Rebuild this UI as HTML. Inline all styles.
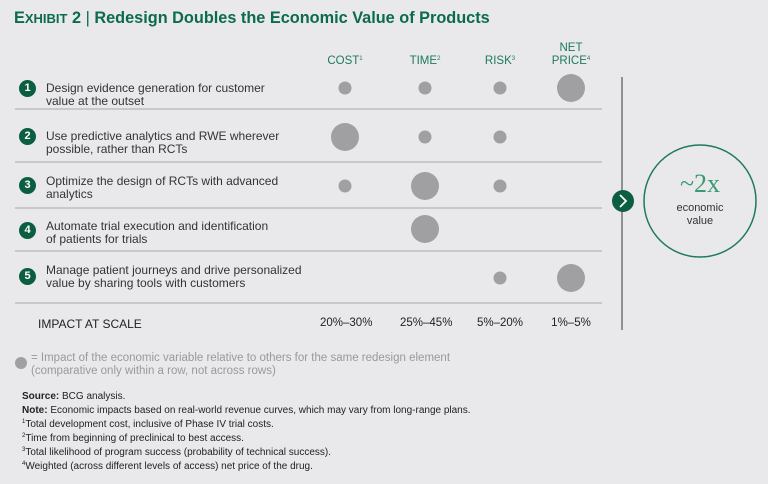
<!DOCTYPE html>
<html><head><meta charset="utf-8"><style>
body{margin:0;width:768px;height:484px;background:#e9e9eb;font-family:"Liberation Sans",sans-serif;overflow:hidden;position:relative}
.a{position:absolute;white-space:nowrap}
.g{color:#1e7a5a}
.row{font-size:12px;color:#333;line-height:13px}
.num{position:absolute;left:19px;width:17px;height:17px;border-radius:50%;background:#0b5e3f;color:#fff;font-size:11px;text-align:center;line-height:17px;font-weight:bold}
.hd{font-size:11.5px;color:#1e7a5a;text-align:center;line-height:13px}
.f{font-size:10px;color:#222;line-height:14px}
sup{font-size:6px;line-height:0;vertical-align:4px}
</style></head><body>
<div class="a g" style="left:14px;top:9px;font-size:16.3px;font-weight:bold;color:#0b6b4b">E<span style="font-size:13px">XHIBIT</span> 2 <span style="font-weight:normal">|</span> Redesign Doubles the Economic Value of Products</div>
<div class="a hd" style="left:320px;top:55px;width:50px">COST<sup>1</sup></div>
<div class="a hd" style="left:400px;top:55px;width:50px">TIME<sup>2</sup></div>
<div class="a hd" style="left:475px;top:55px;width:50px">RISK<sup>3</sup></div>
<div class="a hd" style="left:543px;top:42px;width:56px">NET<br>PRICE<sup>4</sup></div>

<div class="num" style="top:80px">1</div>
<div class="a row" style="left:46px;top:82px">Design evidence generation for customer<br>value at the outset</div>
<div class="num" style="top:128px">2</div>
<div class="a row" style="left:46px;top:130px">Use predictive analytics and RWE wherever<br>possible, rather than RCTs</div>
<div class="num" style="top:177px">3</div>
<div class="a row" style="left:46px;top:175px">Optimize the design of RCTs with advanced<br>analytics</div>
<div class="num" style="top:222px">4</div>
<div class="a row" style="left:46px;top:220px">Automate trial execution and identification<br>of patients for trials</div>
<div class="num" style="top:268px">5</div>
<div class="a row" style="left:46px;top:264px">Manage patient journeys and drive personalized<br>value by sharing tools with customers</div>

<div class="a" style="left:38px;top:317px;font-size:12px;color:#222">IMPACT AT SCALE</div>
<div class="a" style="left:320px;top:317px;width:50px;text-align:center;font-size:11.5px;color:#222">20%–30%</div>
<div class="a" style="left:400px;top:317px;width:50px;text-align:center;font-size:11.5px;color:#222">25%–45%</div>
<div class="a" style="left:475px;top:317px;width:50px;text-align:center;font-size:11.5px;color:#222">5%–20%</div>
<div class="a" style="left:546px;top:317px;width:50px;text-align:center;font-size:11.5px;color:#222">1%–5%</div>

<svg class="a" style="left:0;top:0" width="768" height="484">
<g id="grid"></g><g id="dots"></g>
<line x1="622" y1="77" x2="622" y2="330" stroke="#555" stroke-width="1.2"/>
<circle cx="623" cy="201" r="11" fill="#0b5e3f"/>
<path d="M620 195 L626 201 L620 207" stroke="#fff" stroke-width="1.8" fill="none"/>
<circle cx="700" cy="201" r="56" fill="none" stroke="#1e7a5a" stroke-width="1.5"/>
<text x="700" y="192" text-anchor="middle" font-family="Liberation Serif,serif" font-size="26" fill="#3a9a72">~2x</text>
<text x="700" y="211" text-anchor="middle" font-size="11" fill="#333" font-family="Liberation Sans,sans-serif">economic</text>
<text x="700" y="224" text-anchor="middle" font-size="11" fill="#333" font-family="Liberation Sans,sans-serif">value</text>
<circle cx="21" cy="363" r="6" fill="#a0a0a2"/>
</svg>
<div class="a" style="left:31px;top:352px;font-size:11.5px;color:#999;line-height:13px">= Impact of the economic variable relative to others for the same redesign element<br>(comparative only within a row, not across rows)</div>
<div class="a f" style="left:22px;top:390px"><b>Source:</b> BCG analysis.<br><b>Note:</b> Economic impacts based on real-world revenue curves, which may vary from long-range plans.<br><sup>1</sup>Total development cost, inclusive of Phase IV trial costs.<br><sup>2</sup>Time from beginning of preclinical to best access.<br><sup>3</sup>Total likelihood of program success (probability of technical success).<br><sup>4</sup>Weighted (across different levels of access) net price of the drug.</div>
<script>
const columns=["Cost","Time","Risk","Net price"];
const rowCenters=[88,137,186,229,278];
const cost=[1,2,1,0,0];
const time=[1,1,2,2,0];
const risk=[1,1,1,0,1];
const price=[2,0,0,0,2];
const series=[cost,time,risk,price];
const colX=[345,425,500,571];
const rad=v=>v===2?14:(v===1?6.5:0);
const ns="http://www.w3.org/2000/svg";
const dots=document.getElementById('dots');
series.forEach((s,ci)=>s.forEach((v,ri)=>{if(!v)return;
const c=document.createElementNS(ns,'circle');
c.setAttribute('cx',colX[ci]);c.setAttribute('cy',rowCenters[ri]);c.setAttribute('r',rad(v));c.setAttribute('fill','#a0a0a2');


dots.appendChild(c);}));
const grid=document.getElementById('grid');
[109,162,208,251,303].forEach(y=>{const l=document.createElementNS(ns,'line');
l.setAttribute('x1',15);l.setAttribute('x2',602);l.setAttribute('y1',y);l.setAttribute('y2',y);l.setAttribute('stroke','#a8a8a8');l.setAttribute('stroke-width','1');


grid.appendChild(l);});
</script>
</body></html>
